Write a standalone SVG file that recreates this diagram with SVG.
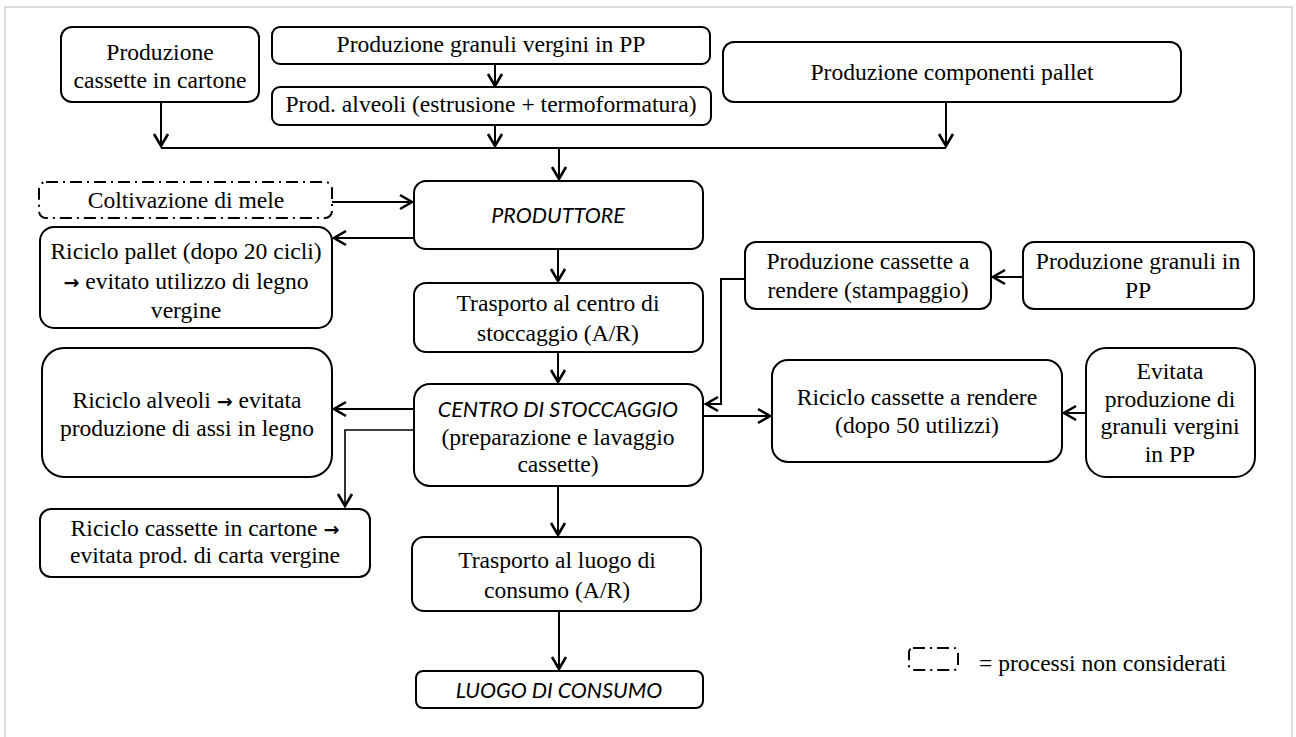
<svg xmlns="http://www.w3.org/2000/svg" width="1296" height="737" viewBox="0 0 1296 737">
<style>
.box{fill:#fff;stroke:#000;stroke-width:2}
.dash{fill:#fff;stroke:#000;stroke-width:2;stroke-dasharray:12 5 2 5}
.t{font-family:"Liberation Serif","Times New Roman",serif;font-size:23.6px;fill:#000;text-anchor:middle}
.i{font-family:Lato,"Open Sans",sans-serif;font-style:italic;font-size:21.5px;fill:#000;text-anchor:middle}
.ar{font-family:"DejaVu Sans",sans-serif;font-weight:bold;font-size:19px}
.c{fill:none;stroke:#000;stroke-width:2}
</style>
<defs>
<marker id="ah" markerUnits="userSpaceOnUse" markerWidth="18" markerHeight="18" viewBox="-14 -9 18 18" refX="0" refY="0" orient="auto">
<path d="M-12,-7 L0,0 L-12,7" fill="none" stroke="#000" stroke-width="2.6"/>
</marker>
</defs>
<rect width="1296" height="737" fill="#fff"/>
<path d="M5,737 V7 H1292 V737" fill="none" stroke="#dcdcdc" stroke-width="2"/>

<g id="cartone"><rect class="box" x="61" y="27" width="198" height="75" rx="11"/><text class="t" x="160" y="60">Produzione</text><text class="t" x="160" y="88">cassette in cartone</text></g>
<g id="granuli-vergini"><rect class="box" x="272" y="27" width="438" height="37" rx="8"/><text class="t" x="491" y="52">Produzione granuli vergini in PP</text></g>
<g id="alveoli"><rect class="box" x="272" y="87" width="439" height="38" rx="8"/><text class="t" x="491" y="112">Prod. alveoli (estrusione + termoformatura)</text></g>
<g id="componenti"><rect class="box" x="723" y="42" width="458" height="60" rx="11"/><text class="t" x="952" y="80">Produzione componenti pallet</text></g>
<g id="coltivazione"><rect class="dash" x="39" y="182" width="293" height="36" rx="7"/><text class="t" x="186" y="208">Coltivazione di mele</text></g>
<g id="produttore"><rect class="box" x="414" y="181" width="289" height="68" rx="12"/><text class="i" x="558" y="223">PRODUTTORE</text></g>
<g id="riciclo-pallet"><rect class="box" x="40" y="227" width="292" height="101" rx="14"/><text class="t" x="186" y="259">Riciclo pallet (dopo 20 cicli)</text><text class="t" x="186" y="289"><tspan class="ar">→</tspan> evitato utilizzo di legno</text><text class="t" x="186" y="318">vergine</text></g>
<g id="trasporto-centro"><rect class="box" x="414" y="283" width="289" height="69" rx="12"/><text class="t" x="558" y="311">Trasporto al centro di</text><text class="t" x="558" y="341">stoccaggio (A/R)</text></g>
<g id="cassette-rendere"><rect class="box" x="745" y="242" width="246" height="67" rx="11"/><text class="t" x="868" y="269">Produzione cassette a</text><text class="t" x="868" y="298">rendere (stampaggio)</text></g>
<g id="granuli-pp"><rect class="box" x="1023" y="242" width="231" height="67" rx="11"/><text class="t" x="1138" y="269">Produzione granuli in</text><text class="t" x="1138" y="298">PP</text></g>
<g id="riciclo-alveoli"><rect class="box" x="42" y="348" width="290" height="129" rx="22"/><text class="t" x="187" y="408">Riciclo alveoli <tspan class="ar">→</tspan> evitata</text><text class="t" x="187" y="436">produzione di assi in legno</text></g>
<g id="centro"><rect class="box" x="414" y="384" width="289" height="102" rx="16"/><text class="i" x="558" y="417">CENTRO DI STOCCAGGIO</text><text class="t" x="558" y="445">(preparazione e lavaggio</text><text class="t" x="558" y="472">cassette)</text></g>
<g id="riciclo-rendere"><rect class="box" x="772" y="360" width="290" height="102" rx="16"/><text class="t" x="917" y="405">Riciclo cassette a rendere</text><text class="t" x="917" y="433">(dopo 50 utilizzi)</text></g>
<g id="evitata"><rect class="box" x="1086" y="348" width="169" height="129" rx="20"/><text class="t" x="1170" y="379">Evitata</text><text class="t" x="1170" y="407">produzione di</text><text class="t" x="1170" y="434">granuli vergini</text><text class="t" x="1170" y="462">in PP</text></g>
<g id="riciclo-cartone"><rect class="box" x="40" y="509" width="330" height="68" rx="11"/><text class="t" x="205" y="536">Riciclo cassette in cartone <tspan class="ar">→</tspan></text><text class="t" x="205" y="563">evitata prod. di carta vergine</text></g>
<g id="trasporto-consumo"><rect class="box" x="412" y="537" width="289" height="74" rx="12"/><text class="t" x="557" y="568">Trasporto al luogo di</text><text class="t" x="557" y="598">consumo (A/R)</text></g>
<g id="luogo"><rect class="box" x="416" y="671" width="287" height="37" rx="7"/><text class="i" x="559" y="698">LUOGO DI CONSUMO</text></g>
<g id="legenda"><rect class="dash" x="909" y="648" width="49" height="22" rx="4"/><text class="t" x="979" y="671" style="text-anchor:start">= processi non considerati</text></g>

<g id="connectors" class="c">
<path d="M161,102 V146" marker-end="url(#ah)"/>
<path d="M161,148 H946"/>
<path d="M495,64 V86" marker-end="url(#ah)"/>
<path d="M495,125 V146" marker-end="url(#ah)"/>
<path d="M946,102 V146" marker-end="url(#ah)"/>
<path d="M559,148 V179" marker-end="url(#ah)"/>
<path d="M332,202 H412" marker-end="url(#ah)"/>
<path d="M414,238 H334" marker-end="url(#ah)"/>
<path d="M558,249 V281" marker-end="url(#ah)"/>
<path d="M558,352 V382" marker-end="url(#ah)"/>
<path d="M745,279 H721 V404 H706" marker-end="url(#ah)"/>
<path d="M703,416 H770" marker-end="url(#ah)"/>
<path d="M1023,277 H993" marker-end="url(#ah)"/>
<path d="M1086,413 H1064" marker-end="url(#ah)"/>
<path d="M414,409 H334" marker-end="url(#ah)"/>
<path d="M414,430 H345 V506" marker-end="url(#ah)" stroke-width="1.6"/>
<path d="M558,486 V535" marker-end="url(#ah)"/>
<path d="M559,611 V669" marker-end="url(#ah)"/>
</g>
</svg>
